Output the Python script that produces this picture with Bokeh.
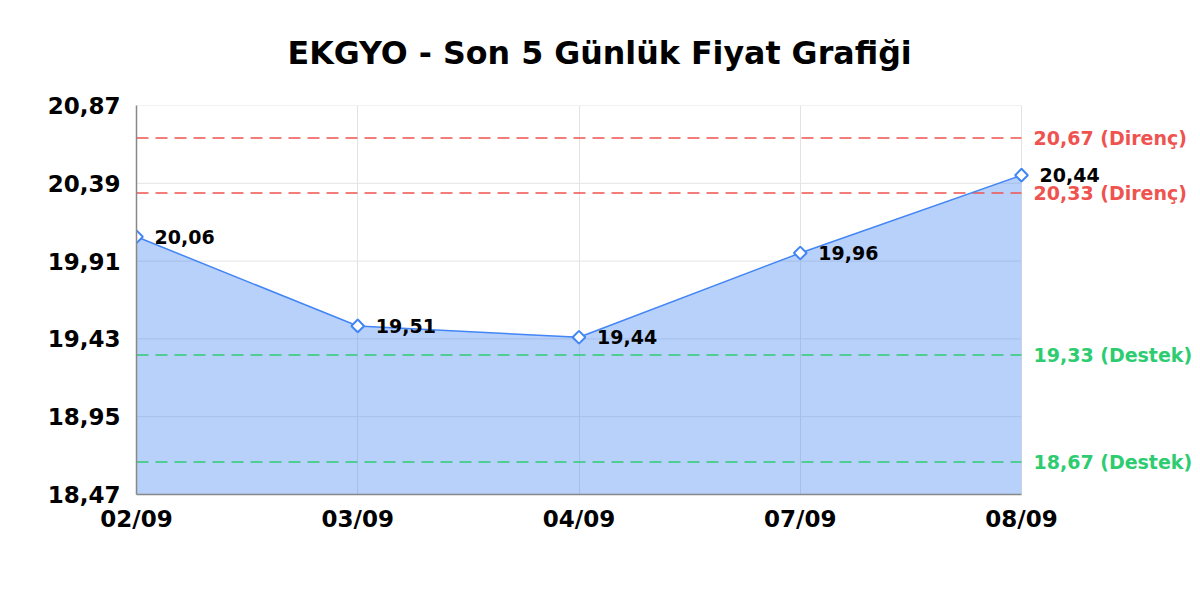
import math
from bokeh.plotting import figure
from bokeh.models import Range1d, FixedTicker, ColumnDataSource, Label
from bokeh.embed import file_html
from bokeh.resources import INLINE

# ---- data ----
title_text = "EKGYO - Son 5 Günlük Fiyat Grafiği"
dates = ["02/09", "03/09", "04/09", "07/09", "08/09"]
prices = [20.06, 19.51, 19.44, 19.96, 20.44]
resistance = [20.67, 20.33]
support = [19.33, 18.67]
y_ticks = [18.47, 18.95, 19.43, 19.91, 20.39, 20.87]

def tr(v):
    return f"{v:.2f}".replace(".", ",")

BLUE = "#4285f4"
RED = "#ef5350"
GREEN = "#2ecc71"
GRID = "#e3e3e3"
FONT = "DejaVu Sans"

# ---- layout (pixels) ----
CANVAS_W, CANVAS_H = 1200, 584
LEFT, TOP = 136, 105
DATA_W, DATA_H = 885, 389

x = list(range(len(dates)))
y0, y1 = y_ticks[0], y_ticks[-1]
# extend the frame to the right edge so the labels beyond the last point are not clipped
x_end = x[-1] + (x[-1] - x[0]) * (CANVAS_W - LEFT - DATA_W) / DATA_W

p = figure(width=CANVAS_W, height=CANVAS_H, output_backend="svg", toolbar_location=None,
           x_range=Range1d(x[0], x_end), y_range=Range1d(y0, y1),
           min_border_left=LEFT, min_border_right=0, min_border_top=TOP,
           min_border_bottom=CANVAS_H - TOP - DATA_H)
p.outline_line_color = None
p.background_fill_color = "white"

# title
p.title.text = title_text
p.title.align = "left"
p.title.vertical_align = "top"
p.title.text_font = FONT
p.title.text_font_style = "bold"
p.title.text_font_size = "31.7px"
p.title.text_color = "black"
p.title.standoff = 66
p.title.offset = 151

# axes
p.xaxis.ticker = FixedTicker(ticks=x)
p.xaxis.major_label_overrides = {i: d for i, d in zip(x, dates)}
p.xaxis.bounds = (x[0], x[-1])
p.yaxis.ticker = FixedTicker(ticks=y_ticks)
p.yaxis.major_label_overrides = {v: tr(v) for v in y_ticks}
for ax in (p.xaxis, p.yaxis):
    ax.major_label_text_font = FONT
    ax.major_label_text_font_style = "bold"
    ax.major_label_text_font_size = "23px"
    ax.major_label_text_color = "black"
    ax.axis_line_color = "#888888"
    ax.axis_line_width = 1.5
    ax.major_tick_line_color = None
    ax.minor_tick_line_color = None
    ax.major_tick_out = 0
    ax.major_tick_in = 0
p.yaxis.major_label_standoff = 16
p.xaxis.major_label_standoff = 11

# grid: vertical lines via the grid, horizontal lines limited to the data span
p.xgrid.ticker = FixedTicker(ticks=x)
p.xgrid.grid_line_color = GRID
p.xgrid.grid_line_width = 1
p.ygrid.visible = False
gsrc = ColumnDataSource(dict(x0=[x[0]] * len(y_ticks), x1=[x[-1]] * len(y_ticks),
                             y=y_ticks))
p.segment(x0="x0", y0="y", x1="x1", y1="y", source=gsrc, line_color=GRID, line_width=1)

src = ColumnDataSource(dict(x=x, y=prices, base=[y0] * len(x)))

p.varea(x="x", y1="base", y2="y", source=src, fill_color=BLUE, fill_alpha=0.38)

# support / resistance levels
levels = resistance + support
lcolors = [RED] * len(resistance) + [GREEN] * len(support)
ltexts = [f"{tr(v)} (Direnç)" for v in resistance] + [f"{tr(v)} (Destek)" for v in support]
lsrc = ColumnDataSource(dict(x0=[x[0]] * len(levels), x1=[x[-1]] * len(levels),
                             y=levels, c=lcolors))
p.segment(x0="x0", y0="y", x1="x1", y1="y", source=lsrc, line_color="c",
          line_width=1.5, line_dash="12 7")
for v, c, t in zip(levels, lcolors, ltexts):
    p.add_layout(Label(x=x[-1], y=v, text=t, x_offset=12, text_align="left",
                       text_baseline="middle", text_font=FONT, text_font_style="bold",
                       text_font_size="19px", text_color=c))

p.line(x="x", y="y", source=src, line_color=BLUE, line_width=1.5)
p.scatter(x="x", y="y", source=src, marker="square", size=9, angle=math.pi / 4,
          fill_color="white", line_color=BLUE, line_width=2)

for xi, yi in zip(x, prices):
    p.add_layout(Label(x=xi, y=yi, text=tr(yi), x_offset=18, y_offset=0,
                       text_align="left", text_baseline="middle",
                       text_font=FONT, text_font_style="bold",
                       text_font_size="19px", text_color="black"))

open("out.html", "w").write(file_html(p, INLINE))
